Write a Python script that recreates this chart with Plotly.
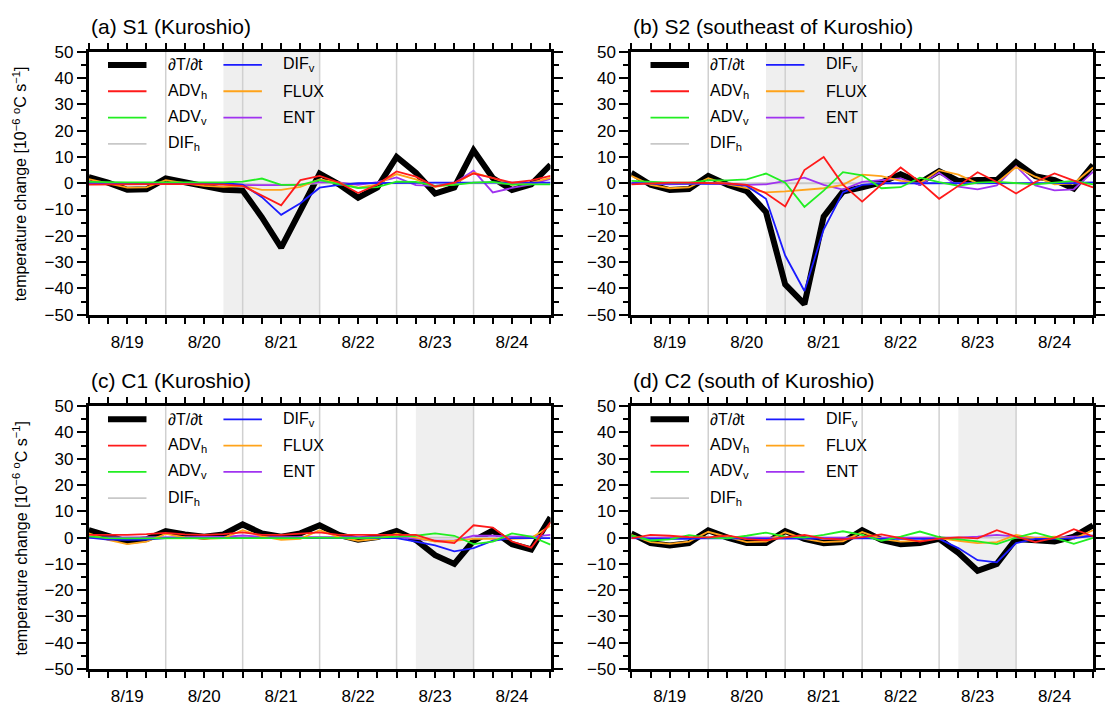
import plotly.graph_objects as go

# 6-hourly time axis, hours since 8/19 00:00
hours = list(range(0, 145, 6))
day_labels = ["8/19", "8/20", "8/21", "8/22", "8/23", "8/24"]
day_bounds = [24, 48, 72, 96, 120]

# ---- (a) S1 (Kuroshio) ----
dTdt_a = [2.3, 0.2, -2.5, -2.3, 1.8, 0.2, -1.4, -2.5, -2.8, -13.0, -24.5, -10.5, 3.7,
          -0.4, -5.5, -1.6, 10.0, 4.0, -3.9, -1.6, 12.5, 2.0, -2.6, -0.4, 7.0]
advh_a = [-0.5, -0.4, -0.3, -0.3, -0.3, -0.3, -0.4, -0.5, -1.0, -4.7, -8.4, 1.2, 2.8,
          0.3, -3.7, -0.5, 4.5, 2.5, -1.3, 0.2, 3.7, 2.0, 0.2, 1.1, 2.8]
advv_a = [0.5, 0.3, 0.3, 0.3, 0.3, 0.3, 0.3, 0.3, 0.6, 1.8, -0.6, -0.6, 1.2,
          -0.2, -1.8, -1.5, 0.6, 0.5, -1.0, -0.6, 0.2, 0.5, -0.5, -0.4, -0.4]
difh_a = [0.0, 0.0, 0.0, 0.0, 0.0, 0.0, 0.0, 0.0, -0.2, -0.4, -0.5, -0.3, 0.0,
          0.0, 0.0, 0.0, 0.0, 0.0, 0.0, 0.0, 0.0, 0.0, 0.0, 0.0, 0.0]
difv_a = [0.2, 0.1, 0.0, 0.0, 0.0, 0.0, 0.0, 0.0, -0.5, -5.3, -12.0, -7.6, -1.7,
          -0.6, 0.0, 0.1, 0.2, 0.2, 0.2, 0.2, 0.2, 0.2, 0.2, 0.2, 0.2]
flux_a = [1.6, 0.0, -1.7, -1.6, 1.2, 0.0, -1.0, -1.4, -1.0, -2.5, -2.5, -1.4, 1.5,
          0.2, -1.7, -0.5, 3.5, 1.5, -1.4, -0.4, 4.0, 2.0, -0.6, 0.2, 2.0]
ent_a = [-0.2, -0.3, -0.3, -0.3, -0.2, -0.2, -0.3, -0.4, -0.7, -0.8, -0.7, -0.6, 0.4,
         0.3, -0.6, 0.4, 2.2, -0.7, -1.0, 0.0, 4.8, -3.5, -1.8, -0.4, 1.7]

# ---- (b) S2 (southeast of Kuroshio) ----
dTdt_b = [4.0, -0.6, -2.6, -2.2, 2.8, -0.6, -3.0, -10.9, -38.5, -46.0, -12.7, -3.2, -1.6,
          0.3, 3.4, 0.2, 4.6, 0.9, 1.2, 1.2, 8.0, 2.7, 1.2, -2.0, 7.0]
advh_b = [-0.4, 0.0, 0.2, 0.2, 0.0, -0.1, -0.6, -3.8, -8.8, 5.0, 10.0, -0.5, -7.0,
          -0.5, 6.0, 0.5, -5.9, -1.0, 4.2, 0.5, -3.9, 0.5, 3.7, 1.0, -1.6]
advv_b = [0.9, 0.6, 0.2, 0.2, 1.1, 1.1, 1.5, 3.7, 0.2, -9.0, -2.8, 4.2, 3.0,
          -1.9, -1.5, 2.1, 0.4, -1.0, 0.2, 0.5, 0.0, -0.4, 0.2, 0.9, -0.4]
difh_b = [0.0, 0.0, 0.0, 0.0, 0.0, 0.0, 0.0, 0.0, 0.0, 0.0, 0.0, 0.0, 0.0,
          0.0, 0.0, 0.0, 0.0, 0.0, 0.0, 0.0, 0.0, 0.0, 0.0, 0.0, 0.0]
difv_b = [0.0, 0.0, 0.0, 0.0, 0.0, -0.2, -1.0, -5.9, -27.5, -41.0, -17.6, -3.5, -0.6,
          0.0, 0.0, 0.0, 0.0, 0.0, 0.0, 0.0, 0.0, 0.0, 0.1, 0.1, 0.3]
flux_b = [2.8, -0.6, -1.9, -1.6, 1.9, -0.4, -1.9, -3.5, -3.1, -2.6, -1.9, -0.6, 3.3,
          2.7, 0.9, 0.0, 5.0, 3.3, 0.0, 0.2, 6.2, 2.5, -0.4, 0.0, 6.0]
ent_b = [0.0, 0.0, -0.4, -0.2, 0.0, -0.2, -0.6, -0.4, 0.9, 2.1, -0.6, -2.4, 0.5,
         1.2, 1.8, -0.7, 4.0, -1.3, -2.3, -0.8, 6.5, -0.8, -2.7, -2.3, 4.3]

# ---- (c) C1 (Kuroshio) ----
dTdt_c = [2.8, 0.7, -1.5, -0.6, 2.5, 1.2, 0.3, 1.2, 5.0, 1.6, 0.3, 1.6, 4.7,
          1.0, -0.8, 0.2, 2.5, -0.9, -6.7, -10.0, -1.2, 2.7, -2.5, -4.5, 7.7]
advh_c = [1.0, 1.0, 1.0, 1.3, 1.8, 1.2, 1.0, 1.3, 2.0, 1.0, 1.0, 1.5, 2.0,
          1.0, 1.0, 1.2, 1.2, 1.0, -1.2, -2.1, 4.7, 3.8, -1.5, -3.8, 5.8]
advv_c = [0.5, -0.2, -0.3, -0.3, -0.3, -0.2, -0.2, -0.2, -0.2, -0.2, -0.2, -0.2, 0.0,
          -0.2, -0.2, 0.0, 0.4, 0.7, 1.6, 0.7, -2.5, -1.5, 1.6, 0.4, -2.7]
difh_c = [0.0, 0.0, 0.0, 0.0, 0.0, 0.0, 0.0, 0.0, 0.0, 0.0, 0.0, 0.0, 0.0,
          0.0, 0.0, 0.0, 0.0, 0.0, 0.0, 0.0, 0.0, 0.0, 0.0, 0.0, 0.0]
difv_c = [0.0, -0.8, -0.9, -0.8, -0.2, -0.2, -0.2, -0.2, -0.2, -0.2, -0.3, -0.2, -0.2,
          -0.3, -0.3, -0.2, -0.2, -1.5, -3.0, -5.2, -4.0, -1.2, -0.2, -0.2, -0.2]
flux_c = [1.6, -0.9, -2.5, -1.5, 1.4, 0.1, -0.5, -0.2, 2.8, 0.5, -0.9, -0.5, 2.8,
          0.2, -1.2, -0.5, 1.5, 0.0, -1.5, -1.2, -0.5, -0.5, -0.5, -0.2, 4.5]
ent_c = [0.0, 0.0, 0.0, 0.0, 0.2, 0.2, 0.3, 0.3, 0.8, 0.3, 0.2, 0.2, 0.4,
         0.2, 0.2, 0.2, 0.2, -0.5, -1.2, -1.2, 0.7, 0.7, 0.4, 0.4, 1.0]

# ---- (d) C2 (south of Kuroshio) ----
dTdt_d = [1.6, -2.1, -3.0, -2.1, 2.8, 0.0, -2.1, -2.1, 2.5, -0.5, -2.1, -1.7, 2.8,
          -0.9, -2.5, -2.1, -0.5, -5.8, -12.6, -10.0, -0.5, -1.2, -1.5, 0.4, 4.7]
advh_d = [-0.3, 1.0, 0.7, 0.2, 0.1, 0.8, -0.6, -1.0, 0.1, 1.0, -0.4, -0.7, 0.2,
          1.2, -0.2, -1.5, -0.4, 0.1, -0.3, 2.8, 0.4, -1.7, -0.1, 3.2, 0.5]
advv_d = [0.8, -1.1, -0.7, 0.9, 0.0, -0.3, 0.7, 1.9, 0.4, 0.0, 1.0, 2.4, 1.0,
          -1.2, 0.4, 2.3, 0.2, -0.5, -1.4, -2.5, 0.0, 1.9, -0.1, -2.4, -0.1]
difh_d = [0.0, 0.0, 0.0, 0.0, 0.0, 0.0, 0.0, 0.0, 0.0, 0.0, 0.0, 0.0, 0.0,
          0.0, 0.0, 0.0, 0.0, 0.0, 0.0, 0.0, 0.0, 0.0, 0.0, 0.0, 0.0]
difv_d = [-0.2, -0.5, -0.5, -0.5, -0.2, -0.3, -0.5, -0.5, -0.3, -0.3, -0.5, -0.5, -0.2,
          -0.5, -0.5, -0.5, -0.5, -4.0, -8.6, -9.4, -2.1, -0.5, -0.5, -0.2, 0.7]
flux_d = [1.0, -1.7, -2.4, -1.5, 2.2, 0.2, -1.7, -1.5, 2.0, -0.5, -1.7, -1.4, 2.1,
          -0.5, -1.5, -1.2, -0.2, -1.2, -2.1, -1.7, 1.0, -0.2, 0.4, -0.5, 2.8]
ent_d = [0.0, 0.0, 0.0, 0.0, 0.2, 0.0, 0.0, 0.0, 0.2, 0.0, 0.0, 0.0, 0.2,
         0.0, 0.0, 0.0, 0.0, 0.0, 0.4, 1.0, 0.4, 0.0, 0.0, 0.4, 0.7]

panel_titles = ["(a) S1 (Kuroshio)", "(b) S2 (southeast of Kuroshio)",
                "(c) C1 (Kuroshio)", "(d) C2 (south of Kuroshio)"]
shade_periods = [(42, 72), (42, 72), (102, 120), (102, 120)]

# term names, colours and widths in legend order (two columns)
term_names = ["∂T/∂t", "ADV<sub>h</sub>", "ADV<sub>v</sub>", "DIF<sub>h</sub>",
              "DIF<sub>v</sub>", "FLUX", "ENT"]
term_colors = ["#000000", "#ff1a1a", "#22ee22", "#c8c8c8", "#1a1aff", "#ffa31a", "#a033f0"]
term_widths = [6, 1.8, 1.8, 1.8, 1.8, 1.8, 1.8]

panels = [
    [dTdt_a, advh_a, advv_a, difh_a, difv_a, flux_a, ent_a],
    [dTdt_b, advh_b, advv_b, difh_b, difv_b, flux_b, ent_b],
    [dTdt_c, advh_c, advv_c, difh_c, difv_c, flux_c, ent_c],
    [dTdt_d, advh_d, advv_d, difh_d, difv_d, flux_d, ent_d],
]
# drawing order: thick total first, then the individual terms
draw_order = [0, 3, 6, 5, 4, 2, 1]

W, H = 1105, 716
FONT = "Liberation Sans, Arial, Helvetica, sans-serif"
col_px = [(89, 552), (633, 1096)]
row_px = [(44, 314), (408, 678)]

fig = go.Figure()
shapes, annotations = [], []

tick_text = ["" if (h - 12) % 24 else day_labels[(h - 12) // 24] for h in hours]

for p in range(4):
    r, c = divmod(p, 2)
    sfx = "" if p == 0 else str(p + 1)
    xa, ya = "x" + sfx, "y" + sfx
    x0, x1 = col_px[c]
    y0, y1 = row_px[r]
    xdom = [x0 / W, x1 / W]
    ydom = [(H - y1) / H, (H - y0) / H]

    for k in draw_order:
        fig.add_trace(go.Scatter(
            x=hours, y=panels[p][k], mode="lines", xaxis=xa, yaxis=ya,
            line=dict(color=term_colors[k], width=term_widths[k]),
            showlegend=False, hoverinfo="skip"))

    fig.layout["xaxis" + sfx] = dict(
        domain=xdom, anchor=ya, range=[hours[0], hours[-1]],
        tickmode="array", tickvals=hours, ticktext=tick_text,
        ticks="outside", ticklen=6, tickwidth=1.5, tickcolor="black",
        ticklabelstandoff=4,
        showline=True, linewidth=3, linecolor="black", mirror="allticks",
        showgrid=False, zeroline=False,
        tickfont=dict(family=FONT, size=17, color="black"))
    fig.layout["yaxis" + sfx] = dict(
        domain=ydom, anchor=xa, range=[-50, 50],
        tickmode="linear", tick0=0, dtick=10,
        ticks="outside", ticklen=9, tickwidth=1.5, tickcolor="black",
        minor=dict(dtick=5, ticks="outside", ticklen=5, tickwidth=1.5,
                   tickcolor="black", showgrid=False),
        showline=True, linewidth=3, linecolor="black", mirror="allticks",
        showgrid=False, zeroline=False,
        tickfont=dict(family=FONT, size=17, color="black"))

    # analysis period shading and day boundaries
    s0, s1 = shade_periods[p]
    shapes.append(dict(type="rect", xref=xa, yref=ya + " domain", x0=s0, x1=s1,
                       y0=0, y1=1, fillcolor="#efefef", line=dict(width=0),
                       layer="below"))
    for d in day_bounds:
        shapes.append(dict(type="line", xref=xa, yref=ya + " domain", x0=d, x1=d,
                           y0=0, y1=1, line=dict(color="#d0d0d0", width=1.5),
                           layer="below"))

    # in-panel key, two columns
    for k in range(7):
        col, row = (0, k) if k < 4 else (1, k - 4)
        ly = 45 - 10 * row
        lx0 = 6 + 36 * col
        shapes.append(dict(type="line", xref=xa, yref=ya, x0=lx0, x1=lx0 + 12,
                           y0=ly, y1=ly,
                           line=dict(color=term_colors[k], width=term_widths[k])))
        annotations.append(dict(x=lx0 + 18, y=ly, xref=xa, yref=ya,
                                text=term_names[k], showarrow=False,
                                xanchor="left", yanchor="middle",
                                font=dict(family=FONT, size=16, color="black")))

    annotations.append(dict(x=x0 / W, y=(H - 18 - (y0 - 44)) / H, xref="paper", yref="paper",
                            text=panel_titles[p], showarrow=False,
                            xanchor="left", yanchor="middle",
                            font=dict(family=FONT, size=21, color="black")))
    if c == 0:
        annotations.append(dict(x=20 / W, y=(H - (y0 + y1) / 2) / H,
                                xref="paper", yref="paper", textangle=-90,
                                text="temperature change [10<sup>−6</sup> <sup>o</sup>C s<sup>−1</sup>]",
                                showarrow=False, xanchor="center", yanchor="middle",
                                font=dict(family=FONT, size=16, color="black")))

fig.update_layout(width=W, height=H, margin=dict(l=0, r=0, t=0, b=0),
                  paper_bgcolor="white", plot_bgcolor="white",
                  shapes=shapes, annotations=annotations, showlegend=False)

fig.write_html("out.html")
